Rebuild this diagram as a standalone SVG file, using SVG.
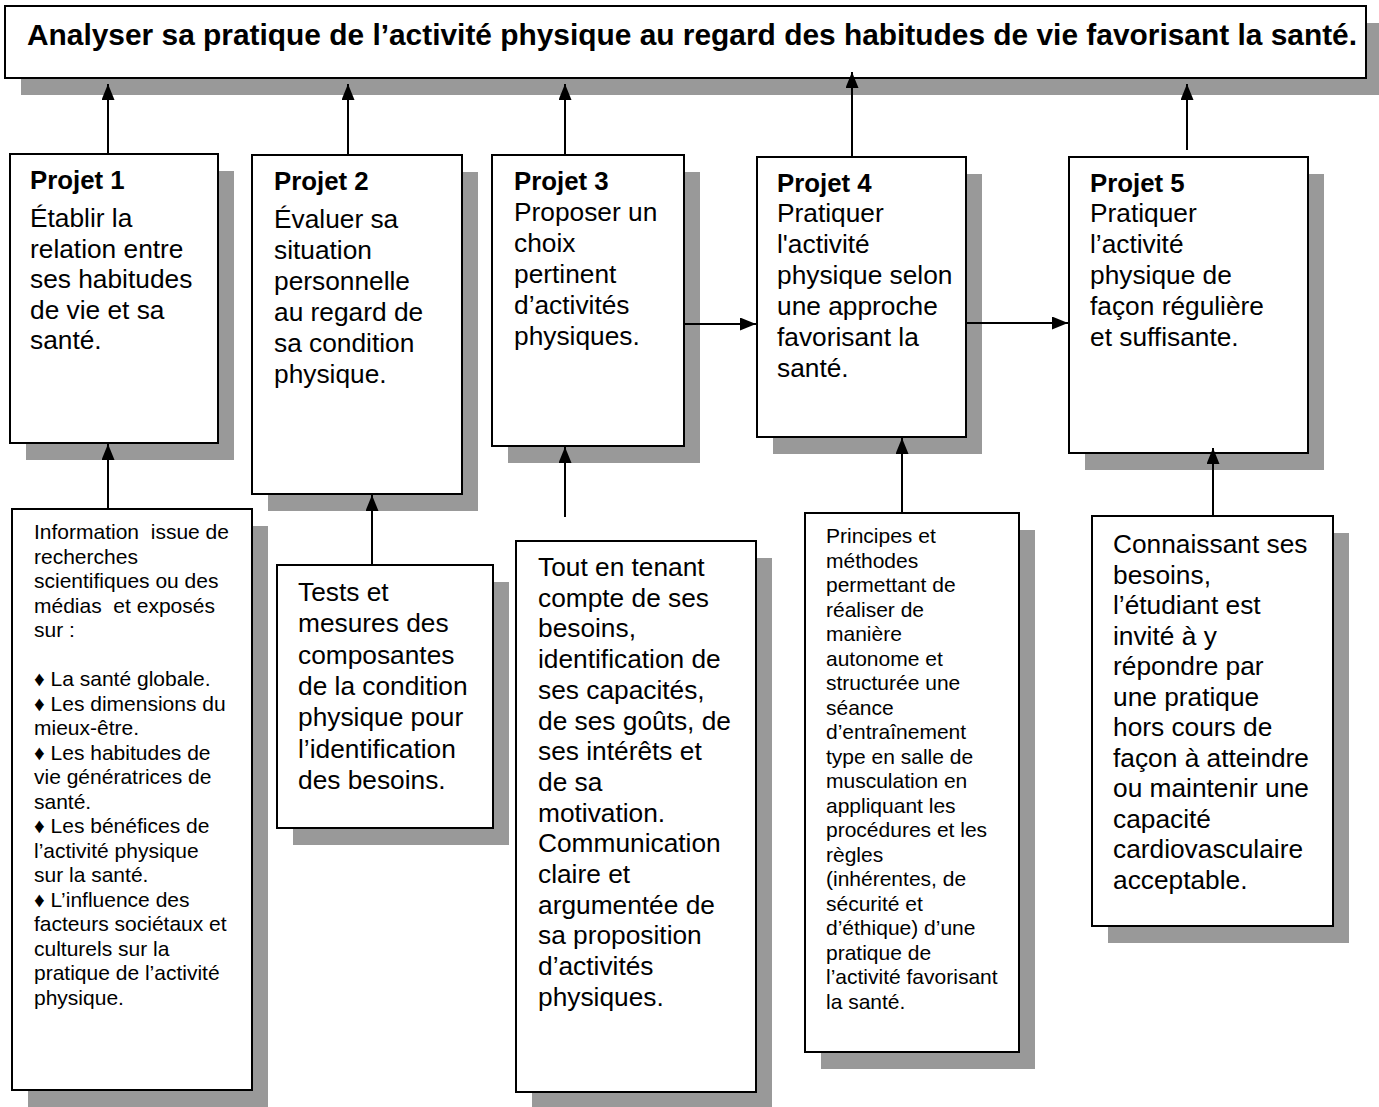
<svg xmlns="http://www.w3.org/2000/svg" width="1379" height="1107" viewBox="0 0 1379 1107">
<style>
.sh{fill:#999999;stroke:none}
.bx{fill:#ffffff;stroke:#000000;stroke-width:2}
.t{font-family:"Liberation Sans",Arial,Helvetica,sans-serif;fill:#000000}
.ttl{font-size:29px;font-weight:bold}
.lbl{font-size:25.8px;font-weight:bold}
.big{font-size:26.3px}
.sml{font-size:21px}
.cn{stroke:#000000;stroke-width:2;fill:none}
</style>
<defs>
<marker id="ah" viewBox="0 0 16 13" refX="16" refY="6.5" markerWidth="16" markerHeight="13" markerUnits="userSpaceOnUse" orient="auto">
<path d="M0,0 L16,6.5 L0,13 Z" fill="#000000"/>
</marker>
</defs>
<rect width="1379" height="1107" fill="#ffffff"/>
<g id="shadows">
<rect class="sh" x="21" y="23" width="1361" height="72"/>
<rect class="sh" x="26" y="171" width="208" height="289"/>
<rect class="sh" x="268" y="172" width="210" height="339"/>
<rect class="sh" x="508" y="172" width="192" height="291"/>
<rect class="sh" x="773" y="174" width="209" height="280"/>
<rect class="sh" x="1085" y="174" width="239" height="296"/>
<rect class="sh" x="28" y="526" width="240" height="581"/>
<rect class="sh" x="293" y="582" width="216" height="263"/>
<rect class="sh" x="532" y="558" width="240" height="551"/>
<rect class="sh" x="821" y="530" width="214" height="539"/>
<rect class="sh" x="1108" y="533" width="241" height="410"/>
</g>
<g id="title">
<rect class="bx" x="5" y="6" width="1361" height="72"/>
<text class="t ttl" x="27" y="45" textLength="1330" lengthAdjust="spacingAndGlyphs">Analyser sa pratique de l’activité physique au regard des habitudes de vie favorisant la santé.</text>
</g>
<g id="projet1">
<rect class="bx" x="10" y="154" width="208" height="289"/>
<text class="t lbl" x="30" y="189">Projet 1</text>
<text class="t big" x="30" y="227"><tspan x="30">Établir la</tspan><tspan x="30" dy="30.6">relation entre</tspan><tspan x="30" dy="30.6">ses habitudes</tspan><tspan x="30" dy="30.6">de vie et sa</tspan><tspan x="30" dy="30.6">santé.</tspan></text>
</g>
<g id="projet2">
<rect class="bx" x="252" y="155" width="210" height="339"/>
<text class="t lbl" x="274" y="190">Projet 2</text>
<text class="t big" x="274" y="228"><tspan x="274">Évaluer sa</tspan><tspan x="274" dy="31">situation</tspan><tspan x="274" dy="31">personnelle</tspan><tspan x="274" dy="31">au regard de</tspan><tspan x="274" dy="31">sa condition</tspan><tspan x="274" dy="31">physique.</tspan></text>
</g>
<g id="projet3">
<rect class="bx" x="492" y="155" width="192" height="291"/>
<text class="t lbl" x="514" y="190">Projet 3</text>
<text class="t big" x="514" y="221"><tspan x="514">Proposer un</tspan><tspan x="514" dy="31">choix</tspan><tspan x="514" dy="31">pertinent</tspan><tspan x="514" dy="31">d’activités</tspan><tspan x="514" dy="31">physiques.</tspan></text>
</g>
<g id="projet4">
<rect class="bx" x="757" y="157" width="209" height="280"/>
<text class="t lbl" x="777" y="192">Projet 4</text>
<text class="t big" x="777" y="222"><tspan x="777">Pratiquer</tspan><tspan x="777" dy="31">l'activité</tspan><tspan x="777" dy="31">physique selon</tspan><tspan x="777" dy="31">une approche</tspan><tspan x="777" dy="31">favorisant la</tspan><tspan x="777" dy="31">santé.</tspan></text>
</g>
<g id="projet5">
<rect class="bx" x="1069" y="157" width="239" height="296"/>
<text class="t lbl" x="1090" y="192">Projet 5</text>
<text class="t big" x="1090" y="222"><tspan x="1090">Pratiquer</tspan><tspan x="1090" dy="31">l’activité</tspan><tspan x="1090" dy="31">physique de</tspan><tspan x="1090" dy="31">façon régulière</tspan><tspan x="1090" dy="31">et suffisante.</tspan></text>
</g>
<g id="info1">
<rect class="bx" x="12" y="509" width="240" height="581"/>
<text class="t sml" x="34" y="539" xml:space="preserve"><tspan x="34">Information  issue de</tspan><tspan x="34" dy="24.5">recherches</tspan><tspan x="34" dy="24.5">scientifiques ou des</tspan><tspan x="34" dy="24.5">médias  et exposés</tspan><tspan x="34" dy="24.5">sur :</tspan><tspan x="34" dy="49">♦ La santé globale.</tspan><tspan x="34" dy="24.5">♦ Les dimensions du</tspan><tspan x="34" dy="24.5">mieux-être.</tspan><tspan x="34" dy="24.5">♦ Les habitudes de</tspan><tspan x="34" dy="24.5">vie génératrices de</tspan><tspan x="34" dy="24.5">santé.</tspan><tspan x="34" dy="24.5">♦ Les bénéfices de</tspan><tspan x="34" dy="24.5">l’activité physique</tspan><tspan x="34" dy="24.5">sur la santé.</tspan><tspan x="34" dy="24.5">♦ L’influence des</tspan><tspan x="34" dy="24.5">facteurs sociétaux et</tspan><tspan x="34" dy="24.5">culturels sur la</tspan><tspan x="34" dy="24.5">pratique de l’activité</tspan><tspan x="34" dy="24.5">physique.</tspan></text>
</g>
<g id="info2">
<rect class="bx" x="277" y="565" width="216" height="263"/>
<text class="t big" x="298" y="601"><tspan x="298">Tests et</tspan><tspan x="298" dy="31.3">mesures des</tspan><tspan x="298" dy="31.3">composantes</tspan><tspan x="298" dy="31.3">de la condition</tspan><tspan x="298" dy="31.3">physique pour</tspan><tspan x="298" dy="31.3">l’identification</tspan><tspan x="298" dy="31.3">des besoins.</tspan></text>
</g>
<g id="info3">
<rect class="bx" x="516" y="541" width="240" height="551"/>
<text class="t big" x="538" y="576"><tspan x="538">Tout en tenant</tspan><tspan x="538" dy="30.7">compte de ses</tspan><tspan x="538" dy="30.7">besoins,</tspan><tspan x="538" dy="30.7">identification de</tspan><tspan x="538" dy="30.7">ses capacités,</tspan><tspan x="538" dy="30.7">de ses goûts, de</tspan><tspan x="538" dy="30.7">ses intérêts et</tspan><tspan x="538" dy="30.7">de sa</tspan><tspan x="538" dy="30.7">motivation.</tspan><tspan x="538" dy="30.7">Communication</tspan><tspan x="538" dy="30.7">claire et</tspan><tspan x="538" dy="30.7">argumentée de</tspan><tspan x="538" dy="30.7">sa proposition</tspan><tspan x="538" dy="30.7">d’activités</tspan><tspan x="538" dy="30.7">physiques.</tspan></text>
</g>
<g id="info4">
<rect class="bx" x="805" y="513" width="214" height="539"/>
<text class="t sml" x="826" y="543"><tspan x="826">Principes et</tspan><tspan x="826" dy="24.5">méthodes</tspan><tspan x="826" dy="24.5">permettant de</tspan><tspan x="826" dy="24.5">réaliser de</tspan><tspan x="826" dy="24.5">manière</tspan><tspan x="826" dy="24.5">autonome et</tspan><tspan x="826" dy="24.5">structurée une</tspan><tspan x="826" dy="24.5">séance</tspan><tspan x="826" dy="24.5">d’entraînement</tspan><tspan x="826" dy="24.5">type en salle de</tspan><tspan x="826" dy="24.5">musculation en</tspan><tspan x="826" dy="24.5">appliquant les</tspan><tspan x="826" dy="24.5">procédures et les</tspan><tspan x="826" dy="24.5">règles</tspan><tspan x="826" dy="24.5">(inhérentes, de</tspan><tspan x="826" dy="24.5">sécurité et</tspan><tspan x="826" dy="24.5">d’éthique) d’une</tspan><tspan x="826" dy="24.5">pratique de</tspan><tspan x="826" dy="24.5">l’activité favorisant</tspan><tspan x="826" dy="24.5">la santé.</tspan></text>
</g>
<g id="info5">
<rect class="bx" x="1092" y="516" width="241" height="410"/>
<text class="t big" x="1113" y="553"><tspan x="1113">Connaissant ses</tspan><tspan x="1113" dy="30.5">besoins,</tspan><tspan x="1113" dy="30.5">l’étudiant est</tspan><tspan x="1113" dy="30.5">invité à y</tspan><tspan x="1113" dy="30.5">répondre par</tspan><tspan x="1113" dy="30.5">une pratique</tspan><tspan x="1113" dy="30.5">hors cours de</tspan><tspan x="1113" dy="30.5">façon à atteindre</tspan><tspan x="1113" dy="30.5">ou maintenir une</tspan><tspan x="1113" dy="30.5">capacité</tspan><tspan x="1113" dy="30.5">cardiovasculaire</tspan><tspan x="1113" dy="30.5">acceptable.</tspan></text>
</g>
<g id="connectors">
<line class="cn" x1="108" y1="154" x2="108" y2="84" marker-end="url(#ah)"/>
<line class="cn" x1="348" y1="155" x2="348" y2="84" marker-end="url(#ah)"/>
<line class="cn" x1="565" y1="155" x2="565" y2="84" marker-end="url(#ah)"/>
<line class="cn" x1="852" y1="158" x2="852" y2="72" marker-end="url(#ah)"/>
<line class="cn" x1="1187" y1="150" x2="1187" y2="84" marker-end="url(#ah)"/>
<line class="cn" x1="108" y1="509" x2="108" y2="444" marker-end="url(#ah)"/>
<line class="cn" x1="372" y1="565" x2="372" y2="495" marker-end="url(#ah)"/>
<line class="cn" x1="565" y1="517" x2="565" y2="447" marker-end="url(#ah)"/>
<line class="cn" x1="902" y1="513" x2="902" y2="438" marker-end="url(#ah)"/>
<line class="cn" x1="1213" y1="516" x2="1213" y2="448" marker-end="url(#ah)"/>
<line class="cn" x1="684" y1="324" x2="756" y2="324" marker-end="url(#ah)"/>
<line class="cn" x1="966" y1="323" x2="1068" y2="323" marker-end="url(#ah)"/>
</g>
</svg>
